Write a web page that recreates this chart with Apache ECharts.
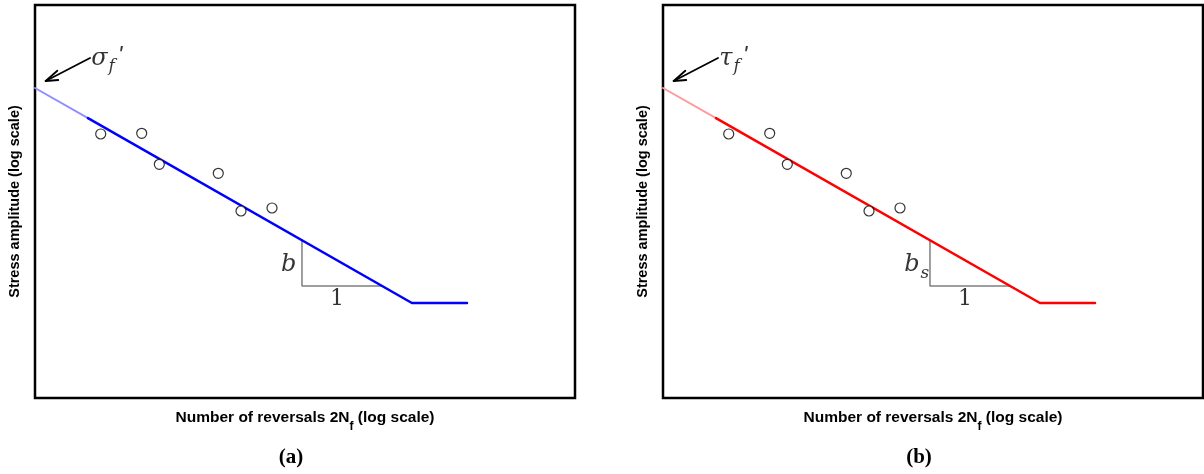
<!DOCTYPE html>
<html>
<head>
<meta charset="utf-8">
<script src="https://cdn.jsdelivr.net/npm/echarts@6/dist/echarts.min.js"></script>
<style>html,body{margin:0;padding:0;background:#fff}#c{width:1204px;height:474px}</style>
</head>
<body>
<div id="c"></div>
<script>
// Data (arbitrary log-space units)
var testPoints = [[1.217,6.718],[1.976,6.735],[2.302,5.947],[3.394,5.718],[3.815,4.758],[4.389,4.835]];
var fadedLine = [[0,7.888],[0.981,7.12]];
var fitLine = [[0.981,7.12],[6.98,2.417],[8.0,2.417]];
var slopeTriangle = [[4.944,4.02],[4.944,2.85],[6.426,2.85]];
var arrowShaft = [[1.019,8.651],[0.198,8.066]];
var arrowWingA = [[0.198,8.066],[0.413,8.328]];
var arrowWingB = [[0.198,8.066],[0.431,8.092]];
var coefLabelPos = [1.04,8.64];
var slopeLabelPos = [4.70,3.38];
var oneLabelPos = [5.593,2.52];
var panelLabels = ['(a)','(b)'];
var coefLabels = ['{i|σ}{s|f}{p|\'}','{i|τ}{s|f}{p|\'}'];
var slopeLabels = ['{i|b}','{i|b}{s|s}'];
var lineColors = ['#0000ff','#ff0000'];
var fadedColors = ['#8f8fff','#ff9a9a'];
var xName = 'Number of reversals 2N{s|f} (log scale)';
var yName = 'Stress amplitude (log scale)';

var chart = echarts.init(document.getElementById('c'), null, {renderer:'canvas'});
var mathRich = {
  i:{fontFamily:'DejaVu Serif',fontStyle:'italic',fontSize:24,color:'#000'},
  s:{fontFamily:'DejaVu Serif',fontStyle:'italic',fontSize:17,color:'#000',verticalAlign:'bottom',padding:[0,0,-5,1]},
  p:{fontFamily:'Liberation Sans',fontStyle:'italic',fontSize:24,color:'#000',verticalAlign:'top',padding:[-2,0,0,3]}
};
var grids=[], xAxes=[], yAxes=[], series=[], titles=[];
var lefts=[35,663];
for (var p=0;p<2;p++){
  grids.push({left:lefts[p],top:5,width:540,height:393,show:true,borderColor:'#000',borderWidth:2.5,backgroundColor:'transparent',containLabel:false,outerBoundsMode:'none'});
  xAxes.push({gridIndex:p,type:'value',min:0,max:10,axisLine:{show:false},axisTick:{show:false},axisLabel:{show:false},splitLine:{show:false},
    name:xName,nameLocation:'middle',nameGap:12,
    nameTextStyle:{fontFamily:'Liberation Sans',fontWeight:'bold',fontSize:15.5,color:'#000',
      rich:{s:{fontFamily:'Liberation Sans',fontWeight:'bold',fontSize:12,color:'#000',verticalAlign:'bottom',padding:[0,0,-7,0]}}}});
  yAxes.push({gridIndex:p,type:'value',min:0,max:10,axisLine:{show:false},axisTick:{show:false},axisLabel:{show:false},splitLine:{show:false},
    name:yName,nameLocation:'middle',nameGap:13,nameRotate:90,
    nameTextStyle:{fontFamily:'Liberation Sans',fontWeight:'bold',fontSize:14.5,color:'#000'}});
  var ax={xAxisIndex:p,yAxisIndex:p};
  function L(data,color,width,z){return Object.assign({type:'line',data:data,symbol:'none',silent:true,animation:false,z:z||2,
    lineStyle:{color:color,width:width,cap:'round'}},ax);}
  series.push(L(fadedLine,fadedColors[p],2,2));
  series.push(L(fitLine,lineColors[p],2.5,3));
  series.push(L(slopeTriangle,'#7f7f7f',1.5,2));
  series.push(L(arrowShaft,'#000',1.8,4));
  series.push(L(arrowWingA,'#000',1.8,4));
  series.push(L(arrowWingB,'#000',1.8,4));
  series.push(Object.assign({type:'scatter',data:testPoints,symbol:'circle',symbolSize:10,silent:true,animation:false,z:5,
    itemStyle:{color:'#fff',borderColor:'#000',borderWidth:1.2}},ax));
  series.push(Object.assign({type:'scatter',data:[coefLabelPos],symbolSize:0,silent:true,animation:false,z:6,
    label:{show:true,position:'right',distance:0,formatter:coefLabels[p],rich:mathRich}},ax));
  series.push(Object.assign({type:'scatter',data:[slopeLabelPos],symbolSize:0,silent:true,animation:false,z:6,
    label:{show:true,position:'inside',formatter:slopeLabels[p],rich:mathRich}},ax));
  series.push(Object.assign({type:'scatter',data:[oneLabelPos],symbolSize:0,silent:true,animation:false,z:6,
    label:{show:true,position:'inside',formatter:'1',fontFamily:'DejaVu Serif',fontSize:22,color:'#000'}},ax));
  titles.push({text:panelLabels[p],left:lefts[p]+251,top:442,textAlign:'center',
    textStyle:{fontFamily:'Liberation Serif',fontWeight:'bold',fontSize:21,color:'#000'}});
}
chart.setOption({animation:false,backgroundColor:'#fff',title:titles,grid:grids,xAxis:xAxes,yAxis:yAxes,series:series});
</script>
</body>
</html>
